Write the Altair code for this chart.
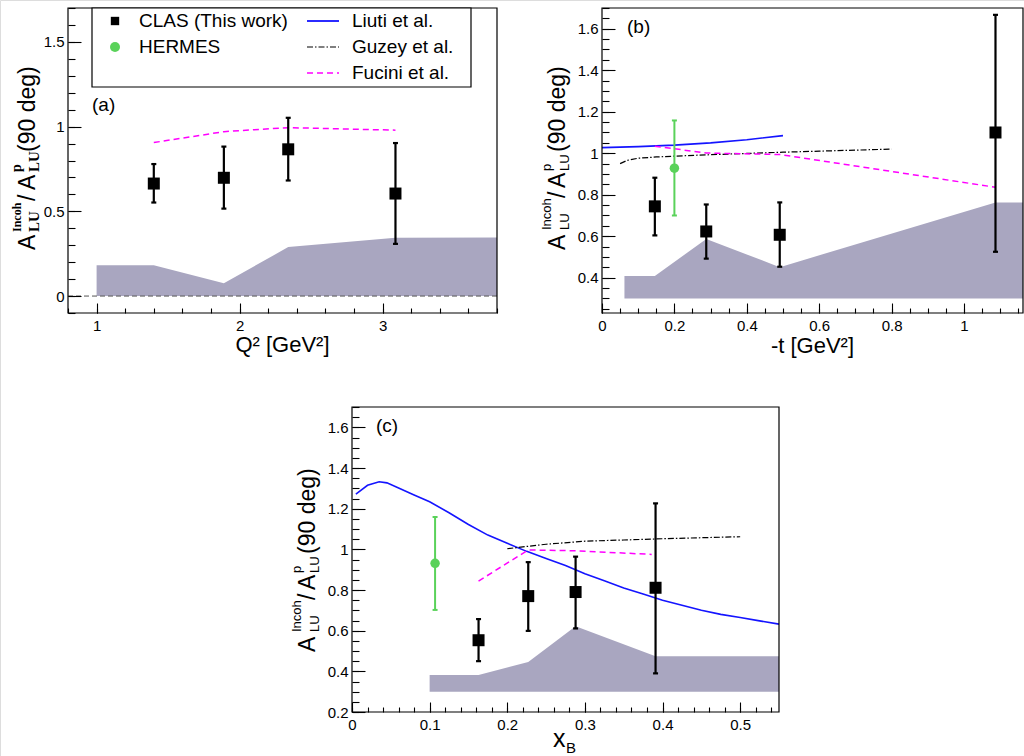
import altair as alt
import pandas as pd

FONT = "Liberation Sans"
SERIF = "Liberation Serif"
BAND_COLOR = "#a9a6c0"
CLAS_COLOR = "black"
HERMES_COLOR = "#5ad25a"
LIUTI_COLOR = "#1414ff"
GUZEY_COLOR = "black"
FUCINI_COLOR = "#ff00ff"

# ---------------- panel (a): vs Q^2 ----------------
a_clas_x = [1.40, 1.89, 2.34, 3.09]
a_clas_y = [0.664, 0.698, 0.866, 0.605]
a_clas_lo = [0.552, 0.516, 0.682, 0.308]
a_clas_hi = [0.779, 0.882, 1.052, 0.903]
a_band_x = [1.0, 1.40, 1.89, 2.34, 3.09, 3.8]
a_band_hi = [0.182, 0.182, 0.075, 0.289, 0.344, 0.345]
a_band_lo = [0.0, 0.0, 0.0, 0.0, 0.0, 0.0]
a_fucini_x = [1.40, 1.89, 2.34, 3.09]
a_fucini_y = [0.906, 0.970, 0.994, 0.979]
a_zero_x = [0.8, 3.8]
a_zero_y = [0.0, 0.0]

# ---------------- panel (b): vs -t ----------------
b_clas_x = [0.146, 0.288, 0.491, 1.087]
b_clas_y = [0.744, 0.623, 0.607, 1.100]
b_clas_lo = [0.604, 0.492, 0.453, 0.525]
b_clas_hi = [0.882, 0.753, 0.763, 1.667]
b_hermes_x = [0.200]
b_hermes_y = [0.928]
b_hermes_lo = [0.700]
b_hermes_hi = [1.158]
b_band_x = [0.062, 0.146, 0.288, 0.491, 1.087, 1.163]
b_band_hi = [0.408, 0.408, 0.587, 0.451, 0.763, 0.763]
b_band_lo = [0.3, 0.3, 0.3, 0.3, 0.3, 0.3]
b_liuti_x = [0.0, 0.1, 0.2, 0.3, 0.4, 0.5]
b_liuti_y = [1.027, 1.032, 1.039, 1.050, 1.065, 1.085]
b_guzey_x = [0.05, 0.07, 0.1, 0.15, 0.2, 0.3, 0.4, 0.5, 0.6, 0.7, 0.8]
b_guzey_y = [0.950, 0.966, 0.976, 0.982, 0.986, 0.993, 0.999, 1.005, 1.010, 1.015, 1.020]
b_fucini_x = [0.146, 0.288, 0.491, 1.087]
b_fucini_y = [1.034, 1.001, 0.994, 0.836]

# ---------------- panel (c): vs x_B ----------------
c_clas_x = [0.163, 0.227, 0.288, 0.391]
c_clas_y = [0.553, 0.770, 0.790, 0.811]
c_clas_lo = [0.450, 0.599, 0.611, 0.390]
c_clas_hi = [0.657, 0.937, 0.964, 1.226]
c_hermes_x = [0.107]
c_hermes_y = [0.931]
c_hermes_lo = [0.702]
c_hermes_hi = [1.159]
c_band_x = [0.100, 0.163, 0.227, 0.288, 0.391, 0.55]
c_band_hi = [0.382, 0.382, 0.446, 0.622, 0.474, 0.474]
c_band_lo = [0.3, 0.3, 0.3, 0.3, 0.3, 0.3]
c_liuti_x = [0.005, 0.02, 0.035, 0.045, 0.06, 0.08, 0.1, 0.125, 0.15, 0.175, 0.2,
             0.225, 0.25, 0.275, 0.3, 0.325, 0.35, 0.375, 0.4, 0.425, 0.45, 0.475,
             0.5, 0.525, 0.55]
c_liuti_y = [1.272, 1.315, 1.332, 1.327, 1.302, 1.267, 1.234, 1.180, 1.122, 1.070, 1.030,
             0.990, 0.955, 0.920, 0.880, 0.845, 0.810, 0.780, 0.750, 0.725, 0.700, 0.680,
             0.665, 0.648, 0.632]
c_guzey_x = [0.2, 0.22, 0.25, 0.3, 0.35, 0.4, 0.45, 0.5]
c_guzey_y = [1.003, 1.012, 1.025, 1.040, 1.046, 1.052, 1.057, 1.062]
c_fucini_x = [0.163, 0.227, 0.288, 0.386]
c_fucini_y = [0.844, 0.997, 0.993, 0.975]

# axis tick values
a_xmaj = [1, 2, 3]
a_xmin = [round(0.8 + 0.2 * i, 3) for i in range(16)]
a_ymaj = [0, 0.5, 1, 1.5]
a_ymin = [round(-0.1 + 0.1 * i, 3) for i in range(19)]
b_xmaj = [0, 0.2, 0.4, 0.6, 0.8, 1]
b_xmin = [round(0.05 * i, 3) for i in range(24)]
b_ymaj = [0.4, 0.6, 0.8, 1, 1.2, 1.4, 1.6]
b_ymin = [round(0.25 + 0.05 * i, 3) for i in range(30)]
c_xmaj = [0, 0.1, 0.2, 0.3, 0.4, 0.5]
c_xmin = [round(0.02 * i, 3) for i in range(28)]
c_ymaj = [0.2, 0.4, 0.6, 0.8, 1, 1.2, 1.4, 1.6]
c_ymin = [round(0.2 + 0.05 * i, 3) for i in range(31)]

legend_left_labels = ["CLAS (This work)", "HERMES"]
legend_right_labels = ["Liuti et al.", "Guzey et al.", "Fucini et al."]

VIEW_W, VIEW_H = 1024, 756
ONE = pd.DataFrame({"k": [0]})

# panel frames on the page: (left, top, right, bottom)
BOX_A = (68, 8, 497, 313)
BOX_B = (602, 8, 1023, 313)
BOX_C = (352, 407, 779, 712)


def text_piece(s, x, y, size, font=FONT, weight="normal", angle=None,
               align="left", baseline="alphabetic"):
    kw = dict(text=s, font=font, fontSize=size, fontWeight=weight,
              align=align, baseline=baseline, color="black")
    if angle is not None:
        kw["angle"] = angle
    return alt.Chart(ONE).mark_text(**kw).encode(x=alt.value(x), y=alt.value(y))


def frame(box):
    x0, y0, x1, y1 = box
    return (alt.Chart(ONE).mark_rect(filled=False, stroke="black", strokeWidth=1.2)
            .encode(x=alt.value(x0), x2=alt.value(x1), y=alt.value(y0), y2=alt.value(y1)))


def ytitle(box, pieces):
    x0, y0 = box[0], box[1]
    return [text_piece(s, x0 + dx, y0 + dy, size, font, weight, angle=270)
            for (s, dx, dy, size, font, weight) in pieces]


def make_panel(box, xdom, ydom, xmaj, xmin, ymaj, ymin, band, fucini,
               clas, hermes=None, liuti=None, guzey=None, zero=None):
    x0, y0, x1, y1 = box
    xs = alt.Scale(domain=xdom, range=[x0, x1], nice=False, zero=False)
    ys = alt.Scale(domain=ydom, range=[y1, y0], nice=False, zero=False)
    lab = dict(labelFont=FONT, labelFontSize=15, labelColor="black", labelOverlap=False,
               ticks=False, domain=False, grid=False, format="~g", title=None)
    ax_x_lab = alt.Axis(orient="bottom", offset=y1 - VIEW_H, values=xmaj, labelPadding=5,
                        labelFlush=False, **lab)
    ax_y_lab = alt.Axis(orient="left", offset=-x0, values=ymaj, labelPadding=4, **lab)
    tk = dict(labels=False, domain=False, grid=False, ticks=True, tickColor="black",
              tickWidth=1.1, title=None, zindex=1)
    ax_x_maj = alt.Axis(orient="top", offset=-y1, values=xmaj, tickSize=10, **tk)
    ax_y_maj = alt.Axis(orient="right", offset=x0 - VIEW_W, values=ymaj, tickSize=13, **tk)
    ax_x_min = alt.Axis(orient="top", offset=-y1, values=xmin, tickSize=5, **tk)
    ax_y_min = alt.Axis(orient="right", offset=x0 - VIEW_W, values=ymin, tickSize=7, **tk)

    def X(f="x", axis=None):
        return alt.X(f + ":Q", scale=xs, axis=axis)

    def Y(f="y", axis=None):
        return alt.Y(f + ":Q", scale=ys, axis=axis)

    layers = []
    bx, blo, bhi = band
    layers.append(alt.Chart(pd.DataFrame({"x": bx, "lo": blo, "hi": bhi}))
                  .mark_area(color=BAND_COLOR, opacity=1)
                  .encode(x=X(axis=ax_x_lab), y=Y("hi", ax_y_lab), y2=alt.Y2("lo")))
    if zero is not None:
        layers.append(alt.Chart(pd.DataFrame({"x": zero[0], "y": zero[1]}))
                      .mark_line(color="#555555", strokeWidth=1, strokeDash=[5, 3])
                      .encode(x=X(), y=Y()))
    if liuti is not None:
        layers.append(alt.Chart(pd.DataFrame({"x": liuti[0], "y": liuti[1]}))
                      .mark_line(color=LIUTI_COLOR, strokeWidth=1.6)
                      .encode(x=X(), y=Y()))
    if guzey is not None:
        layers.append(alt.Chart(pd.DataFrame({"x": guzey[0], "y": guzey[1]}))
                      .mark_line(color=GUZEY_COLOR, strokeWidth=1.2, strokeDash=[6, 2, 1.5, 2])
                      .encode(x=X(), y=Y()))
    layers.append(alt.Chart(pd.DataFrame({"x": fucini[0], "y": fucini[1]}))
                  .mark_line(color=FUCINI_COLOR, strokeWidth=1.5, strokeDash=[6, 4])
                  .encode(x=X(axis=ax_x_maj), y=Y(axis=ax_y_maj)))
    if hermes is not None:
        hd = pd.DataFrame({"x": hermes[0], "y": hermes[1], "lo": hermes[2], "hi": hermes[3]})
        layers.append(alt.Chart(hd).mark_rule(color=HERMES_COLOR, strokeWidth=2)
                      .encode(x=X(), y=Y("lo"), y2=alt.Y2("hi")))
        for f in ("lo", "hi"):
            layers.append(alt.Chart(hd).mark_tick(color=HERMES_COLOR, orient="horizontal",
                                                  size=5, thickness=2, opacity=1)
                          .encode(x=X(), y=Y(f)))
        layers.append(alt.Chart(hd).mark_circle(color=HERMES_COLOR, size=90, opacity=1)
                      .encode(x=X(), y=Y()))
    cd = pd.DataFrame({"x": clas[0], "y": clas[1], "lo": clas[2], "hi": clas[3]})
    layers.append(alt.Chart(cd).mark_rule(color=CLAS_COLOR, strokeWidth=2.2)
                  .encode(x=X(), y=Y("lo"), y2=alt.Y2("hi")))
    for f in ("lo", "hi"):
        layers.append(alt.Chart(cd).mark_tick(color=CLAS_COLOR, orient="horizontal",
                                              size=5, thickness=2.2, opacity=1)
                      .encode(x=X(), y=Y(f)))
    layers.append(alt.Chart(cd).mark_square(color=CLAS_COLOR, size=144, opacity=1)
                  .encode(x=X(axis=ax_x_min), y=Y(axis=ax_y_min)))
    layers.append(frame(box))
    return layers


# ---- y-axis titles built from pieces (text, dx, dy, size, font, weight) ----
title_a = ytitle(BOX_A, [
    ("A", -33, 242, 23, FONT, "normal"),
    ("Incoh", -47.5, 224, 12, SERIF, "bold"),
    ("LU", -28.7, 224, 15, SERIF, "bold"),
    ("/", -33, 193, 23, FONT, "normal"),
    ("A", -33, 182, 23, FONT, "normal"),
    ("p", -47.5, 164, 14, SERIF, "bold"),
    ("LU", -28.7, 164, 15, SERIF, "bold"),
    ("(90 deg)", -33, 144, 23, FONT, "normal"),
])


def title_bc(box, y0):
    return ytitle(box, [
        ("A", -37, y0, 23, FONT, "normal"),
        ("Incoh", -51, y0 - 20, 13, FONT, "normal"),
        ("LU", -32.7, y0 - 20, 13, FONT, "normal"),
        ("/", -37, y0 - 52, 23, FONT, "normal"),
        ("A", -37, y0 - 62, 23, FONT, "normal"),
        ("p", -51, y0 - 79, 13, FONT, "normal"),
        ("LU", -32.7, y0 - 79, 13, FONT, "normal"),
        ("(90 deg)", -37, y0 - 98, 23, FONT, "normal"),
    ])


# ---- legend (inside panel a) ----
LX, LY = BOX_A[0], BOX_A[1]
legend = [
    alt.Chart(ONE).mark_rect(fill="white", stroke="black", strokeWidth=1.2)
    .encode(x=alt.value(LX + 24), x2=alt.value(LX + 403), y=alt.value(LY), y2=alt.value(LY + 79)),
    alt.Chart(ONE).mark_square(color=CLAS_COLOR, size=70, opacity=1)
    .encode(x=alt.value(LX + 47), y=alt.value(LY + 13)),
    alt.Chart(ONE).mark_circle(color=HERMES_COLOR, size=100, opacity=1)
    .encode(x=alt.value(LX + 47), y=alt.value(LY + 39)),
    text_piece(legend_left_labels[0], LX + 71, LY + 13, 19, baseline="middle"),
    text_piece(legend_left_labels[1], LX + 71, LY + 39, 19, baseline="middle"),
    alt.Chart(ONE).mark_rule(color=LIUTI_COLOR, strokeWidth=1.8)
    .encode(x=alt.value(LX + 239), x2=alt.value(LX + 271), y=alt.value(LY + 13)),
    alt.Chart(ONE).mark_rule(color=GUZEY_COLOR, strokeWidth=1.2, strokeDash=[6, 2, 1.5, 2])
    .encode(x=alt.value(LX + 239), x2=alt.value(LX + 271), y=alt.value(LY + 39)),
    alt.Chart(ONE).mark_rule(color=FUCINI_COLOR, strokeWidth=1.5, strokeDash=[6, 4])
    .encode(x=alt.value(LX + 239), x2=alt.value(LX + 271), y=alt.value(LY + 65)),
    text_piece(legend_right_labels[0], LX + 284, LY + 13, 19, baseline="middle"),
    text_piece(legend_right_labels[1], LX + 284, LY + 39, 19, baseline="middle"),
    text_piece(legend_right_labels[2], LX + 284, LY + 65, 19, baseline="middle"),
]

layers_a = make_panel(BOX_A, [0.8, 3.8], [-0.1, 1.7], a_xmaj, a_xmin, a_ymaj, a_ymin,
                      (a_band_x, a_band_lo, a_band_hi), (a_fucini_x, a_fucini_y),
                      (a_clas_x, a_clas_y, a_clas_lo, a_clas_hi),
                      zero=(a_zero_x, a_zero_y))
layers_b = make_panel(BOX_B, [0, 1.163], [0.23, 1.7], b_xmaj, b_xmin, b_ymaj, b_ymin,
                      (b_band_x, b_band_lo, b_band_hi), (b_fucini_x, b_fucini_y),
                      (b_clas_x, b_clas_y, b_clas_lo, b_clas_hi),
                      hermes=(b_hermes_x, b_hermes_y, b_hermes_lo, b_hermes_hi),
                      liuti=(b_liuti_x, b_liuti_y), guzey=(b_guzey_x, b_guzey_y))
layers_c = make_panel(BOX_C, [0, 0.55], [0.2, 1.7], c_xmaj, c_xmin, c_ymaj, c_ymin,
                      (c_band_x, c_band_lo, c_band_hi), (c_fucini_x, c_fucini_y),
                      (c_clas_x, c_clas_y, c_clas_lo, c_clas_hi),
                      hermes=(c_hermes_x, c_hermes_y, c_hermes_lo, c_hermes_hi),
                      liuti=(c_liuti_x, c_liuti_y), guzey=(c_guzey_x, c_guzey_y))

cx_a = (BOX_A[0] + BOX_A[2]) / 2
cx_b = (BOX_B[0] + BOX_B[2]) / 2
texts = legend + title_a + title_bc(BOX_B, 242) + title_bc(BOX_C, 245) + [
    text_piece("(a)", BOX_A[0] + 24, BOX_A[1] + 97, 19, baseline="middle"),
    text_piece("Q² [GeV²]", cx_a, BOX_A[3] + 39, 22, align="center"),
    text_piece("(b)", BOX_B[0] + 25, BOX_B[1] + 19, 19, baseline="middle"),
    text_piece("-t [GeV²]", cx_b, BOX_B[3] + 40, 22, align="center"),
    text_piece("(c)", BOX_C[0] + 24, BOX_C[1] + 19, 19, baseline="middle"),
    text_piece("x", BOX_C[0] + 201, BOX_C[1] + 340, 25),
    text_piece("B", BOX_C[0] + 214, BOX_C[1] + 346, 15),
]

chart = (alt.layer(*(layers_a + layers_b + layers_c + texts))
         .resolve_scale(x="independent", y="independent")
         .properties(width=VIEW_W, height=VIEW_H, padding=0,
                     autosize=alt.AutoSizeParams(type="none"))
         .configure_view(stroke="transparent")
         .configure(font=FONT))

chart.save("out.html", embed_options={"renderer": "svg", "actions": False})
